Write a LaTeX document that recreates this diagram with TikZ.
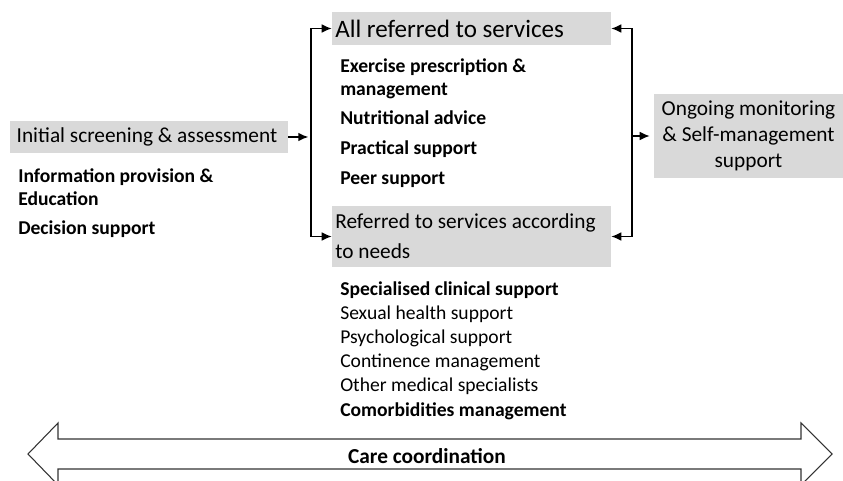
\documentclass[tikz,border=0pt]{standalone}
\usepackage{fontspec}
\setmainfont{Carlito}
\usetikzlibrary{arrows.meta}
\definecolor{boxgray}{RGB}{217,217,217}

\begin{document}
\begin{tikzpicture}[x=0.75pt,y=-0.75pt,
    title/.style={fill=boxgray,inner ysep=0pt,inner xsep=2.5pt,align=flush left,
      font=\fontsize{16}{19.5}\selectfont},
    item/.style={anchor=base west,inner sep=0pt,align=left,
      font=\fontsize{14.7}{17.25}\selectfont},
    bolditem/.style={font=\fontsize{14.7}{17.25}\selectfont\bfseries},
    arr/.style={-{Latex[length=7.5pt,width=6.5pt]},line width=1.1pt}]
   \useasboundingbox (0,0) rectangle (843,481);
   \clip (0,0) rectangle (843,481);
   % grey boxes
   \begin{scope}[every node/.style={title}]
    \node[text width=198.5pt,inner xsep=5pt,minimum height=24pt] (init) at (149,137) {Initial screening \& assessment};
    \node[text width=204.25pt,minimum height=24.75pt,font=\fontsize{18.8}{21}\selectfont] (allref) at (471.5,28.5) {All referred to services};
    \node[text width=204.25pt,minimum height=45.75pt,font=\fontsize{16}{22.5}\selectfont] (needs) at (471.5,236.5) {Referred to services according\\to needs};
    \node[minimum width=141.75pt,minimum height=63pt,align=center] (ongoing) at (748.5,136) {Ongoing monitoring\\\& Self-management\\support};
   \end{scope}
   % lists
   \begin{scope}[every node/.style={item}]
    \node[bolditem] (info) at (18,206) {Information provision \&\\Education};
    \node[bolditem] (decision) at (18,235) {Decision support};
    \node[bolditem] (exercise) at (340,96) {Exercise prescription \&\\management};
    \node[bolditem] (nutrition) at (340,125) {Nutritional advice};
    \node[bolditem] (practical) at (340,155) {Practical support};
    \node[bolditem] (peer) at (340,185) {Peer support};
    \node[bolditem] (clinical) at (340,296) {Specialised clinical support};
    \node (sexual) at (340,319) {Sexual health support};
    \node (psych) at (340,343) {Psychological support};
    \node (continence) at (340,367) {Continence management};
    \node (medical) at (340,391) {Other medical specialists};
    \node[bolditem] (comorb) at (340,416) {Comorbidities management};
   \end{scope}
   % junctions
   \coordinate (lmid) at (311,137);
   \coordinate (ltop) at (311,28.5);
   \coordinate (lbot) at (311,236.5);
   \coordinate (rtop) at (632,28.5);
   \coordinate (rmid) at (632,136);
   \coordinate (rbot) at (632,236.5);
   \draw[line width=1.1pt,line cap=rect] (ltop) -- (lbot);
   \draw[line width=1.1pt,line cap=rect] (rtop) -- (rbot);
   \begin{scope}[every edge/.style={draw,arr}]
    \draw (init) edge[shorten >=2pt] (lmid);
    \draw (ltop) edge (allref);
    \draw (lbot) edge (needs);
    \draw (rtop) edge (allref);
    \draw (rbot) edge (needs);
    \draw (rmid) edge[shorten >=3pt] (ongoing);
   \end{scope}
   % care coordination arrow
   \draw[line width=0.8pt,black!80,line join=miter]
     (58,439) -- (801,439) -- (801,423) -- (832,454) -- (801,485) -- (801,469)
     -- (58,469) -- (58,485) -- (28,454) -- (58,423) -- cycle;
   \node[font=\fontsize{16}{19.5}\selectfont\bfseries] (care) at (427,456) {Care coordination};
\end{tikzpicture}
\end{document}
